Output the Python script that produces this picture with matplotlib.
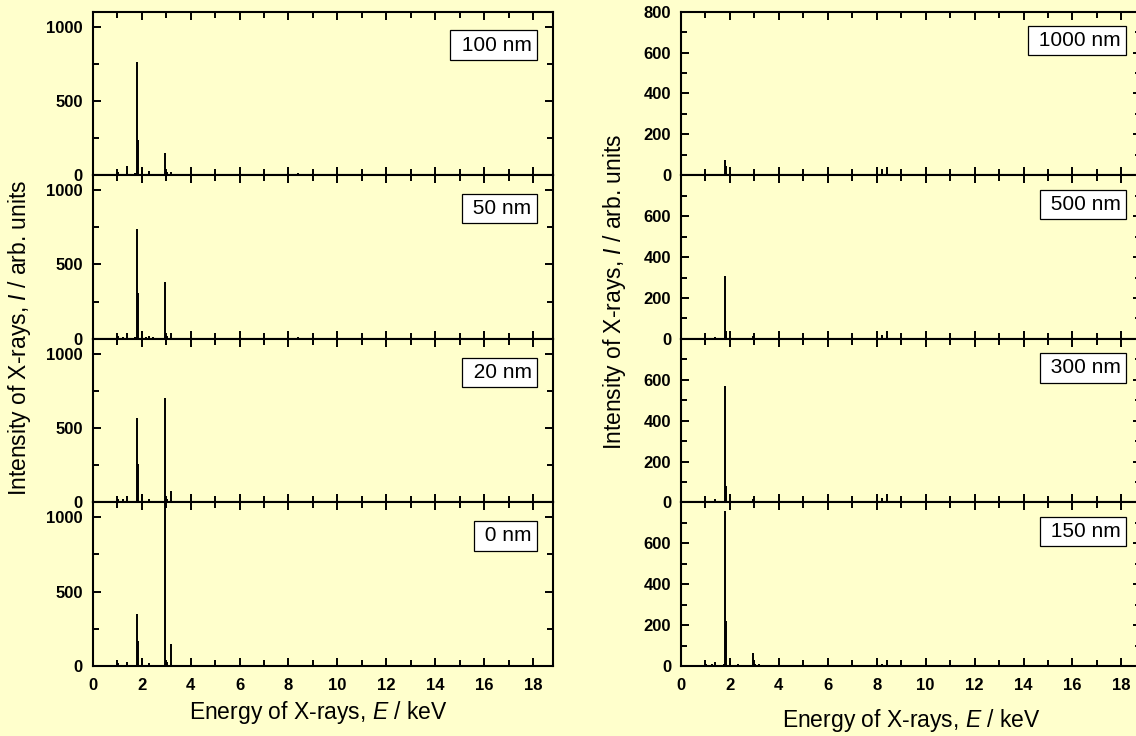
import matplotlib
matplotlib.use("Agg")
import matplotlib.pyplot as plt
from matplotlib.ticker import MultipleLocator, FixedLocator

plt.rcParams['font.family'] = ['Liberation Sans', 'DejaVu Sans']
plt.rcParams['mathtext.fontset'] = 'custom'
plt.rcParams['mathtext.rm'] = 'Liberation Sans'
plt.rcParams['mathtext.it'] = 'Liberation Sans:italic'

# stick positions of the EDX lines, keV
energy = [1.04, 1.25, 1.39, 1.49, 1.74, 1.80, 1.85, 2.01, 2.16, 2.31, 2.45,
          2.62, 2.80, 2.96, 3.03, 3.19, 4.0, 5.0, 6.4, 8.2, 8.4, 9.7]

# left column: thin films
left_labels = ['100 nm', '50 nm', '20 nm', '0 nm']
I_100 = [25, 10, 60, 10, 15, 765, 240, 55, 10, 30, 10, 8, 8, 150, 20, 25, 5, 4, 3, 5, 12, 3]
I_50 = [20, 15, 40, 8, 10, 740, 310, 50, 10, 20, 10, 8, 8, 380, 20, 40, 5, 4, 3, 5, 12, 3]
I_20 = [25, 20, 45, 10, 12, 570, 260, 55, 10, 25, 8, 6, 8, 705, 20, 80, 5, 5, 3, 5, 12, 3]
I_0 = [20, 10, 25, 8, 10, 350, 170, 55, 10, 20, 8, 6, 8, 1150, 30, 150, 5, 4, 3, 5, 10, 3]
left_data = [I_100, I_50, I_20, I_0]

# right column: thick films
right_labels = ['1000 nm', '500 nm', '300 nm', '150 nm']
I_1000 = [3, 2, 5, 2, 3, 75, 45, 5, 2, 3, 2, 2, 2, 8, 3, 3, 2, 3, 2, 30, 40, 2]
I_500 = [4, 3, 8, 3, 4, 305, 40, 6, 3, 4, 3, 2, 3, 15, 5, 4, 2, 4, 2, 20, 40, 2]
I_300 = [5, 4, 15, 4, 6, 570, 80, 8, 4, 6, 3, 3, 3, 15, 6, 5, 3, 8, 2, 20, 40, 2]
I_150 = [10, 8, 20, 6, 10, 760, 220, 25, 6, 10, 5, 5, 5, 65, 12, 10, 4, 6, 3, 10, 30, 3]
right_data = [I_1000, I_500, I_300, I_150]

bg = '#FFFFCC'
W, H = 1136, 736
fig = plt.figure(figsize=(W / 100, H / 100), dpi=100, facecolor=bg)

ax_top, ax_bot = 1 - 11.7 / H, 1 - 666 / H
ph = (ax_top - ax_bot) / 4
aw = 460 / W


def setup(ax, ymax, yticks, yminor, bottom):
    ax.set_facecolor(bg)
    ax.set_xlim(0, 18.8)
    ax.set_ylim(0, ymax)
    ax.xaxis.set_major_locator(MultipleLocator(2))
    ax.xaxis.set_minor_locator(MultipleLocator(1))
    ax.yaxis.set_major_locator(FixedLocator(yticks))
    ax.yaxis.set_minor_locator(MultipleLocator(yminor))
    ax.tick_params(which='both', direction='in', top=True, right=True, width=1.4)
    ax.tick_params(which='major', length=6)
    ax.tick_params(which='minor', length=4)
    ax.tick_params(axis='y', pad=7, labelsize=12)
    ax.tick_params(axis='x', pad=9, labelsize=12)
    for lab in ax.get_xticklabels() + ax.get_yticklabels():
        lab.set_fontweight('bold')
    if not bottom:
        ax.tick_params(axis='x', labelbottom=False)
    for sp in ax.spines.values():
        sp.set_linewidth(1.5)


def tag(ax, text, x, y):
    ax.text(x, y, ' ' + text, transform=ax.transAxes, ha='right', va='center',
            fontsize=15, zorder=5,
            bbox=dict(boxstyle='square,pad=0.25', fc='white', ec='black', lw=0.9))


# left column
for i, (vals, lab) in enumerate(zip(left_data, left_labels)):
    ax = fig.add_axes([92.7 / W, ax_top - (i + 1) * ph, aw, ph])
    ax.vlines(energy, 0, vals, colors='k', lw=1.4)
    setup(ax, 1100, [0, 500, 1000], 250, i == 3)
    tag(ax, lab, 0.954, 0.796)

# right column
for i, (vals, lab) in enumerate(zip(right_data, right_labels)):
    ax = fig.add_axes([681 / W, ax_top - (i + 1) * ph, aw, ph])
    ax.vlines(energy, 0, vals, colors='k', lw=1.4)
    ticks = [0, 200, 400, 600, 800] if i == 0 else [0, 200, 400, 600]
    setup(ax, 800, ticks, 100, i == 3)
    tag(ax, lab, 0.956, 0.823)

ylab = r'Intensity of X-rays, $I$ / arb. units'
xlab = r'Energy of X-rays, $E$ / keV'
fig.text(20 / W, 1 - 338 / H, ylab, rotation=90, ha='center', va='center', fontsize=16.5)
fig.text(614 / W, 1 - 292 / H, ylab, rotation=90, ha='center', va='center', fontsize=16.5)
fig.text(318 / W, 1 - 713 / H, xlab, ha='center', va='center', fontsize=16.5)
fig.text(911 / W, 1 - 721 / H, xlab, ha='center', va='center', fontsize=16.5)

fig.savefig('out.png', dpi=100, facecolor=bg)
